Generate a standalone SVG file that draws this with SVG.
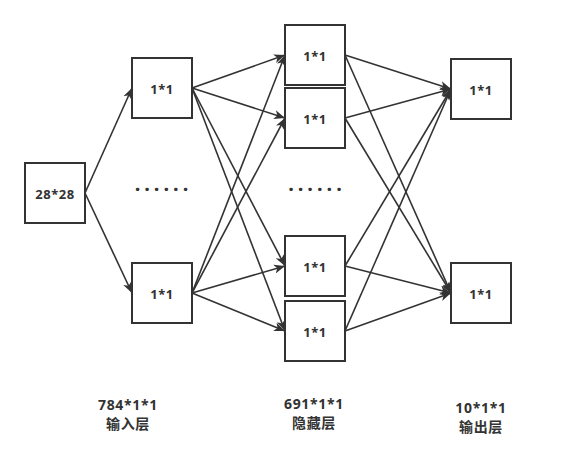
<svg xmlns="http://www.w3.org/2000/svg" width="566" height="461" viewBox="0 0 566 461">
<defs>
<style>
.box{fill:#fff;stroke:#333;stroke-width:2}
.edge{stroke:#333;stroke-width:1.6;fill:none;marker-end:url(#arr)}
.t{font-family:"Noto Sans","Noto Sans CJK SC",sans-serif;font-size:13px;font-weight:bold;fill:#333;text-anchor:middle;letter-spacing:0.5px}
.lb{font-family:"Noto Sans","Noto Sans CJK SC",sans-serif;font-size:14px;font-weight:bold;fill:#333;text-anchor:middle;letter-spacing:0.7px}
.dots{font-family:"Noto Sans",sans-serif;font-size:20px;font-weight:bold;fill:#333;text-anchor:middle;letter-spacing:4px}
</style>
<marker id="arr" markerWidth="12" markerHeight="10" refX="11" refY="5" orient="auto" markerUnits="userSpaceOnUse">
<path d="M0,0.5 L11,5 L0,9.5 L3,5 Z" fill="#333"/>
</marker>
</defs>
<rect width="566" height="461" fill="#fff"/>
<g id="connectors">
<line class="edge" x1="85" y1="193" x2="132" y2="88"/>
<line class="edge" x1="85" y1="193" x2="132" y2="293"/>
<line class="edge" x1="192" y1="88" x2="285" y2="55"/>
<line class="edge" x1="192" y1="88" x2="285" y2="118"/>
<line class="edge" x1="192" y1="88" x2="285" y2="266"/>
<line class="edge" x1="192" y1="88" x2="285" y2="331"/>
<line class="edge" x1="192" y1="293" x2="285" y2="55"/>
<line class="edge" x1="192" y1="293" x2="285" y2="118"/>
<line class="edge" x1="192" y1="293" x2="285" y2="266"/>
<line class="edge" x1="192" y1="293" x2="285" y2="331"/>
<line class="edge" x1="345" y1="55" x2="451" y2="89"/>
<line class="edge" x1="345" y1="55" x2="451" y2="293"/>
<line class="edge" x1="345" y1="118" x2="451" y2="89"/>
<line class="edge" x1="345" y1="118" x2="451" y2="293"/>
<line class="edge" x1="345" y1="266" x2="451" y2="89"/>
<line class="edge" x1="345" y1="266" x2="451" y2="293"/>
<line class="edge" x1="345" y1="331" x2="451" y2="89"/>
<line class="edge" x1="345" y1="331" x2="451" y2="293"/>
</g>
<g id="input"><rect class="box" x="25" y="163" width="60" height="60"/><text class="t" x="55" y="199">28*28</text></g>
<g id="l1a"><rect class="box" x="132" y="58" width="60" height="60"/><text class="t" x="162" y="94">1*1</text></g>
<g id="l1b"><rect class="box" x="132" y="263" width="60" height="60"/><text class="t" x="162" y="299">1*1</text></g>
<g id="h1"><rect class="box" x="285" y="25" width="60" height="60"/><text class="t" x="315" y="61">1*1</text></g>
<g id="h2"><rect class="box" x="285" y="88" width="60" height="60"/><text class="t" x="315" y="124">1*1</text></g>
<g id="h3"><rect class="box" x="285" y="236" width="60" height="60"/><text class="t" x="315" y="272">1*1</text></g>
<g id="h4"><rect class="box" x="285" y="301" width="60" height="60"/><text class="t" x="315" y="337">1*1</text></g>
<g id="o1"><rect class="box" x="451" y="59" width="60" height="60"/><text class="t" x="481" y="95">1*1</text></g>
<g id="o2"><rect class="box" x="451" y="263" width="60" height="60"/><text class="t" x="481" y="299">1*1</text></g>
<g id="dots1"><text class="dots" x="163.5" y="191">......</text></g>
<g id="dots2"><text class="dots" x="317" y="191">......</text></g>
<g id="labels">
<text class="lb" x="128" y="410">784*1*1</text>
<text class="lb" x="128" y="429">输入层</text>
<text class="lb" x="314" y="409">691*1*1</text>
<text class="lb" x="314" y="428">隐藏层</text>
<text class="lb" x="481" y="413">10*1*1</text>
<text class="lb" x="481" y="432">输出层</text>
</g>
</svg>
